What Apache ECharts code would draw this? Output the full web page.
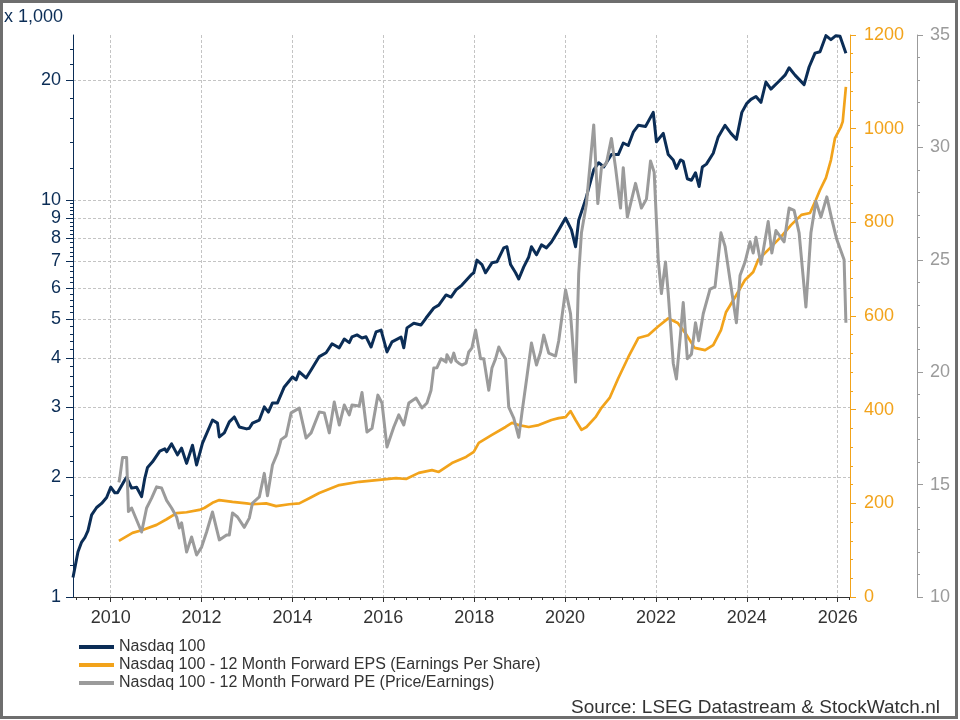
<!DOCTYPE html>
<html>
<head>
<meta charset="utf-8">
<title>Nasdaq 100 - EPS en PE</title>
<script src="https://cdn.jsdelivr.net/npm/echarts@6.0.0/dist/echarts.min.js"></script>
<style>
  html, body { margin: 0; padding: 0; background: #fff; }
  #chart { width: 960px; height: 720px; }
</style>
</head>
<body>
<div id="chart"></div>
<script>
// [decimal year, value]
// Nasdaq 100 koers (x 1,000), log-schaal links
var nasdaq100 = [
  [2009.17, 1.12], [2009.28, 1.30], [2009.36, 1.375], [2009.43, 1.41], [2009.50, 1.47], [2009.58, 1.61],
  [2009.69, 1.68], [2009.80, 1.72], [2009.91, 1.78],
  [2010.00, 1.89], [2010.09, 1.83], [2010.15, 1.83], [2010.31, 1.97], [2010.35, 2.0], [2010.46, 1.88],
  [2010.57, 1.89], [2010.68, 1.79], [2010.75, 1.99], [2010.81, 2.12], [2010.92, 2.19],
  [2011.08, 2.33], [2011.19, 2.36], [2011.23, 2.32], [2011.34, 2.43], [2011.47, 2.28], [2011.56, 2.37],
  [2011.67, 2.17], [2011.80, 2.41], [2011.89, 2.15],
  [2012.02, 2.44], [2012.24, 2.79], [2012.35, 2.74], [2012.39, 2.53], [2012.50, 2.59], [2012.61, 2.76],
  [2012.72, 2.84], [2012.83, 2.68], [2012.99, 2.65],
  [2013.05, 2.66], [2013.12, 2.74], [2013.27, 2.79], [2013.38, 3.01], [2013.47, 2.92], [2013.56, 3.08],
  [2013.67, 3.08], [2013.82, 3.38],
  [2014.00, 3.58], [2014.08, 3.52], [2014.15, 3.69], [2014.30, 3.56], [2014.41, 3.73], [2014.59, 4.03],
  [2014.74, 4.12], [2014.87, 4.34],
  [2015.03, 4.24], [2015.14, 4.46], [2015.25, 4.37], [2015.31, 4.52], [2015.42, 4.57], [2015.53, 4.49],
  [2015.62, 4.52], [2015.73, 4.26], [2015.84, 4.65], [2015.95, 4.70],
  [2016.08, 4.14], [2016.19, 4.39], [2016.39, 4.51], [2016.45, 4.24], [2016.52, 4.76], [2016.67, 4.89],
  [2016.83, 4.84], [2016.94, 5.04],
  [2017.11, 5.34], [2017.22, 5.43], [2017.38, 5.76], [2017.49, 5.69], [2017.60, 5.93], [2017.73, 6.10],
  [2017.93, 6.47], [2017.99, 6.55],
  [2018.06, 7.05], [2018.17, 6.87], [2018.25, 6.55], [2018.39, 6.94], [2018.50, 6.98], [2018.65, 7.57],
  [2018.72, 7.62], [2018.80, 6.87], [2018.91, 6.55], [2018.98, 6.32],
  [2019.09, 6.78], [2019.20, 7.18], [2019.26, 7.62], [2019.37, 7.27], [2019.48, 7.70], [2019.59, 7.57],
  [2019.70, 7.83], [2019.86, 8.40],
  [2020.01, 9.0], [2020.14, 8.40], [2020.23, 7.62], [2020.30, 8.89], [2020.45, 10.0], [2020.63, 11.9],
  [2020.74, 12.4], [2020.85, 12.1],
  [2021.02, 13.0], [2021.17, 13.0], [2021.28, 13.9], [2021.39, 13.7], [2021.50, 14.8], [2021.61, 15.4],
  [2021.77, 15.3], [2021.94, 16.6],
  [2022.01, 14.0], [2022.16, 14.7], [2022.27, 13.0], [2022.38, 12.6], [2022.45, 12.0], [2022.54, 12.6],
  [2022.60, 12.5], [2022.69, 11.3], [2022.78, 11.2], [2022.87, 11.7], [2022.95, 10.8],
  [2023.02, 12.1], [2023.11, 12.3], [2023.26, 13.1], [2023.37, 14.4], [2023.52, 15.4], [2023.65, 14.7],
  [2023.77, 14.2], [2023.89, 16.6], [2024.00, 17.5],
  [2024.09, 17.9], [2024.20, 18.2], [2024.31, 17.6], [2024.42, 19.8], [2024.53, 19.0], [2024.69, 19.8],
  [2024.84, 20.6], [2024.93, 21.5],
  [2025.06, 20.6], [2025.26, 19.5], [2025.37, 21.6], [2025.50, 23.4], [2025.61, 23.6],
  [2025.74, 25.9], [2025.85, 25.3], [2025.96, 25.9], [2026.05, 25.8],
  [2026.18, 23.4]
];

// 12 Month Forward EPS, rechts (oranje)
var forwardEps = [
  [2010.18, 120], [2010.48, 137], [2010.70, 143], [2011.01, 154], [2011.23, 166], [2011.45, 179],
  [2011.67, 181], [2011.95, 186], [2012.06, 190], [2012.24, 201], [2012.39, 207], [2012.68, 203],
  [2012.99, 200], [2013.12, 198], [2013.42, 200], [2013.64, 194], [2013.93, 198], [2014.15, 200],
  [2014.37, 211], [2014.59, 222], [2015.03, 239], [2015.47, 246], [2015.91, 250], [2016.28, 254],
  [2016.50, 252], [2016.78, 265], [2017.07, 271], [2017.22, 267], [2017.51, 286], [2017.82, 299],
  [2017.99, 310], [2018.10, 329], [2018.39, 346], [2018.69, 363], [2018.83, 372], [2018.98, 367],
  [2019.20, 363], [2019.42, 367], [2019.70, 378], [2019.86, 382], [2020.01, 384], [2020.12, 397],
  [2020.23, 378], [2020.36, 357], [2020.47, 363], [2020.67, 384], [2020.80, 404], [2020.98, 425],
  [2021.17, 467], [2021.39, 512], [2021.61, 553], [2021.83, 559], [2022.04, 577], [2022.27, 595],
  [2022.48, 585], [2022.65, 563], [2022.85, 532], [2023.08, 527], [2023.26, 538], [2023.43, 570],
  [2023.54, 608], [2023.74, 640], [2023.96, 677], [2024.14, 694], [2024.25, 720], [2024.53, 747],
  [2024.75, 769], [2024.97, 794], [2025.20, 816], [2025.39, 820], [2025.52, 848], [2025.61, 869],
  [2025.74, 895], [2025.85, 933], [2025.94, 980], [2026.07, 1004], [2026.11, 1015], [2026.18, 1089]
];

// 12 Month Forward PE, rechts (grijs)
var forwardPe = [
  [2010.18, 15.1], [2010.20, 15.3], [2010.26, 16.2], [2010.35, 16.2], [2010.39, 13.8], [2010.46, 13.96],
  [2010.68, 12.89], [2010.79, 13.96], [2010.90, 14.4], [2011.01, 14.9], [2011.12, 14.85], [2011.23, 14.3],
  [2011.34, 13.96], [2011.45, 13.56], [2011.51, 13.07], [2011.56, 13.3], [2011.67, 12.0], [2011.78, 12.67],
  [2011.89, 11.87], [2012.00, 12.22], [2012.11, 12.89], [2012.24, 13.78], [2012.39, 12.54], [2012.55, 12.76],
  [2012.61, 12.76], [2012.68, 13.74], [2012.79, 13.56], [2012.94, 13.1], [2013.05, 13.51], [2013.12, 14.18],
  [2013.27, 14.45], [2013.38, 15.5], [2013.45, 14.5], [2013.56, 15.87], [2013.67, 16.4], [2013.75, 17.0],
  [2013.86, 17.16], [2013.97, 18.19], [2014.15, 18.4], [2014.30, 17.07], [2014.41, 17.3], [2014.59, 18.23],
  [2014.70, 18.19], [2014.81, 17.3], [2014.92, 18.67], [2015.03, 17.65], [2015.14, 18.54], [2015.25, 18.1],
  [2015.31, 18.54], [2015.47, 18.5], [2015.53, 19.1], [2015.64, 17.34], [2015.75, 17.5], [2015.88, 18.98],
  [2015.97, 18.63], [2016.08, 16.67], [2016.23, 17.56], [2016.34, 18.1], [2016.45, 17.65], [2016.56, 18.63],
  [2016.72, 18.85], [2016.85, 18.41], [2016.96, 18.63], [2017.05, 19.2], [2017.11, 20.19], [2017.18, 20.2],
  [2017.27, 20.6], [2017.38, 20.45], [2017.40, 20.78], [2017.49, 20.45], [2017.55, 20.85], [2017.60, 20.5],
  [2017.66, 20.4], [2017.73, 20.32], [2017.82, 20.4], [2017.88, 20.9], [2017.95, 21.08], [2018.03, 21.88],
  [2018.14, 20.6], [2018.21, 20.6], [2018.32, 19.2], [2018.39, 20.19], [2018.47, 20.6], [2018.54, 21.12],
  [2018.61, 20.85], [2018.69, 20.6], [2018.76, 18.45], [2018.87, 17.96], [2018.98, 17.1], [2019.05, 18.19],
  [2019.15, 19.65], [2019.26, 21.3], [2019.37, 20.32], [2019.46, 20.9], [2019.53, 21.65], [2019.64, 20.85],
  [2019.79, 20.72], [2019.86, 21.4], [2020.01, 23.66], [2020.12, 22.6], [2020.23, 19.56], [2020.30, 24.4],
  [2020.36, 26.2], [2020.47, 27.5], [2020.63, 31.0], [2020.72, 27.5], [2020.80, 29.1], [2020.91, 29.3],
  [2021.02, 30.4], [2021.11, 29.1], [2021.22, 27.3], [2021.28, 29.1], [2021.37, 26.9], [2021.55, 28.4],
  [2021.68, 27.3], [2021.79, 27.7], [2021.88, 29.4], [2021.96, 28.9], [2022.05, 25.0], [2022.12, 23.5],
  [2022.21, 24.9], [2022.27, 23.5], [2022.38, 20.4], [2022.45, 19.7], [2022.54, 21.7], [2022.60, 23.1],
  [2022.69, 20.6], [2022.78, 20.8], [2022.87, 22.2], [2022.94, 21.4], [2023.04, 22.6], [2023.19, 23.7],
  [2023.30, 23.8], [2023.43, 26.2], [2023.52, 25.6], [2023.63, 24.1], [2023.77, 22.2], [2023.85, 24.3],
  [2023.96, 24.9], [2024.07, 25.8], [2024.14, 25.3], [2024.20, 26.0], [2024.31, 24.8], [2024.47, 26.7],
  [2024.55, 25.3], [2024.64, 26.3], [2024.82, 25.8], [2024.93, 27.3], [2025.04, 27.2], [2025.15, 26.2],
  [2025.30, 22.9], [2025.41, 26.2], [2025.52, 27.6], [2025.63, 26.9], [2025.76, 27.8], [2025.87, 26.8],
  [2025.98, 25.9], [2026.14, 25.0], [2026.18, 22.2]
];

// tick labels
var yearTicks = [2010, 2012, 2014, 2016, 2018, 2020, 2022, 2024, 2026];
var ndxTicks = [1, 2, 3, 4, 5, 6, 7, 8, 9, 10, 20];

var font = "'Liberation Sans', Arial, sans-serif";
var navy = '#0b2d56';
var orange = '#f2a31b';
var grey = '#9b9b9b';
var gridLine = { show: true, lineStyle: { color: '#c4c4c4', width: 1, type: [3, 2] } };

// kleine streepjes: per kwartaal op de x-as, 0.2 / 2 op de log-as
var quarterTicks = [];
for (var q = 2009.25; q <= 2026.26; q += 0.25) {
  if (Math.abs(q - Math.round(q)) > 0.01 || Math.round(q) % 2 !== 0) quarterTicks.push(q);
}
var ndxMinor = [];
for (var d = 1; d <= 9; d++) {
  for (var k = 1; k <= 4; k++) ndxMinor.push(d + k * 0.2);
}
ndxMinor.push(12, 14, 16, 18, 22, 24);

var log10 = function (v) { return Math.log10(v); };

var chart = echarts.init(document.getElementById('chart'));
chart.setOption({
  animation: false,
  backgroundColor: '#fff',
  textStyle: { fontFamily: font },
  grid: { left: 73, top: 35, right: 110, bottom: 123, outerBoundsMode: 'none' },
  legend: {
    orient: 'vertical',
    left: 74,
    top: 634,
    icon: 'rect',
    itemWidth: 35,
    itemHeight: 4,
    itemGap: 2,
    textStyle: { fontSize: 16, color: '#333', fontFamily: font },
    data: [
      'Nasdaq 100',
      'Nasdaq 100 - 12 Month Forward EPS (Earnings Per Share)',
      'Nasdaq 100 - 12 Month Forward PE (Price/Earnings)'
    ]
  },
  xAxis: [
    {
      type: 'value',
      position: 'bottom',
      min: 2009.17,
      max: 2026.27,
      axisLine: { show: true, onZero: false, lineStyle: { color: '#333', width: 1 } },
      axisTick: { show: true, length: 5, customValues: yearTicks, lineStyle: { color: '#333' } },
      axisLabel: {
        customValues: yearTicks,
        formatter: function (v) { return String(Math.round(v)); },
        color: '#333',
        fontSize: 18,
        margin: 12
      },
      splitLine: gridLine
    },
    {
      type: 'value',
      position: 'bottom',
      min: 2009.17,
      max: 2026.27,
      axisLine: { show: false, onZero: false },
      axisTick: { show: true, length: 3, customValues: quarterTicks, lineStyle: { color: '#333' } },
      axisLabel: { show: false },
      splitLine: { show: false }
    }
  ],
  yAxis: [
    {
      type: 'value',
      position: 'left',
      min: 0,
      max: Math.log10(26),
      axisLine: { show: true, onZero: false, lineStyle: { color: navy, width: 1 } },
      axisTick: { show: true, length: 7, customValues: ndxTicks.map(log10), lineStyle: { color: navy } },
      axisLabel: {
        customValues: ndxTicks.map(log10),
        formatter: function (v) { return String(Math.round(Math.pow(10, v))); },
        color: navy,
        fontSize: 18,
        margin: 12
      },
      splitLine: gridLine
    },
    {
      type: 'value',
      position: 'left',
      min: 0,
      max: Math.log10(26),
      axisLine: { show: false, onZero: false },
      axisTick: { show: true, length: 3, customValues: ndxMinor.map(log10), lineStyle: { color: navy } },
      axisLabel: { show: false },
      splitLine: { show: false }
    },
    {
      type: 'value',
      position: 'right',
      offset: 0,
      min: 0,
      max: 1200,
      interval: 200,
      axisLine: { show: true, onZero: false, lineStyle: { color: orange, width: 1 } },
      axisTick: { show: true, length: 6, lineStyle: { color: orange } },
      minorTick: { show: true, splitNumber: 5, length: 3, lineStyle: { color: orange } },
      axisLabel: { color: orange, fontSize: 18, margin: 14, formatter: function (v) { return String(v); } },
      splitLine: { show: false }
    },
    {
      type: 'value',
      position: 'right',
      offset: 67,
      min: 10,
      max: 35,
      interval: 5,
      axisLine: { show: true, onZero: false, lineStyle: { color: grey, width: 1 } },
      axisTick: { show: true, length: 6, lineStyle: { color: grey } },
      minorTick: { show: true, splitNumber: 5, length: 3, lineStyle: { color: grey } },
      axisLabel: { color: grey, fontSize: 18, margin: 13, formatter: function (v) { return String(v); } },
      splitLine: { show: false }
    }
  ],
  series: [
    {
      name: 'Nasdaq 100',
      type: 'line',
      xAxisIndex: 0,
      yAxisIndex: 0,
      symbol: 'none',
      itemStyle: { color: navy },
      lineStyle: { color: navy, width: 3, join: 'round' },
      data: nasdaq100.map(function (p) { return [p[0], Math.log10(p[1])]; })
    },
    {
      name: 'Nasdaq 100 - 12 Month Forward EPS (Earnings Per Share)',
      type: 'line',
      xAxisIndex: 0,
      yAxisIndex: 2,
      symbol: 'none',
      itemStyle: { color: orange },
      lineStyle: { color: orange, width: 2.7, join: 'round' },
      data: forwardEps
    },
    {
      name: 'Nasdaq 100 - 12 Month Forward PE (Price/Earnings)',
      type: 'line',
      xAxisIndex: 0,
      yAxisIndex: 3,
      symbol: 'none',
      itemStyle: { color: grey },
      lineStyle: { color: grey, width: 3, join: 'round' },
      data: forwardPe
    }
  ],
  graphic: [
    {
      type: 'text',
      left: 4,
      top: 8,
      style: { text: 'x 1,000', fontSize: 18, fill: navy, fontFamily: font }
    },
    {
      type: 'text',
      right: 20,
      bottom: 3,
      style: { text: 'Source: LSEG Datastream & StockWatch.nl', fontSize: 19, fill: '#333', fontFamily: font }
    },
    {
      type: 'rect',
      silent: true,
      z: 100,
      shape: { x: 1.5, y: 1.5, width: 955, height: 716 },
      style: { fill: 'none', stroke: '#6e6e6e', lineWidth: 3 }
    }
  ]
});
</script>
</body>
</html>
